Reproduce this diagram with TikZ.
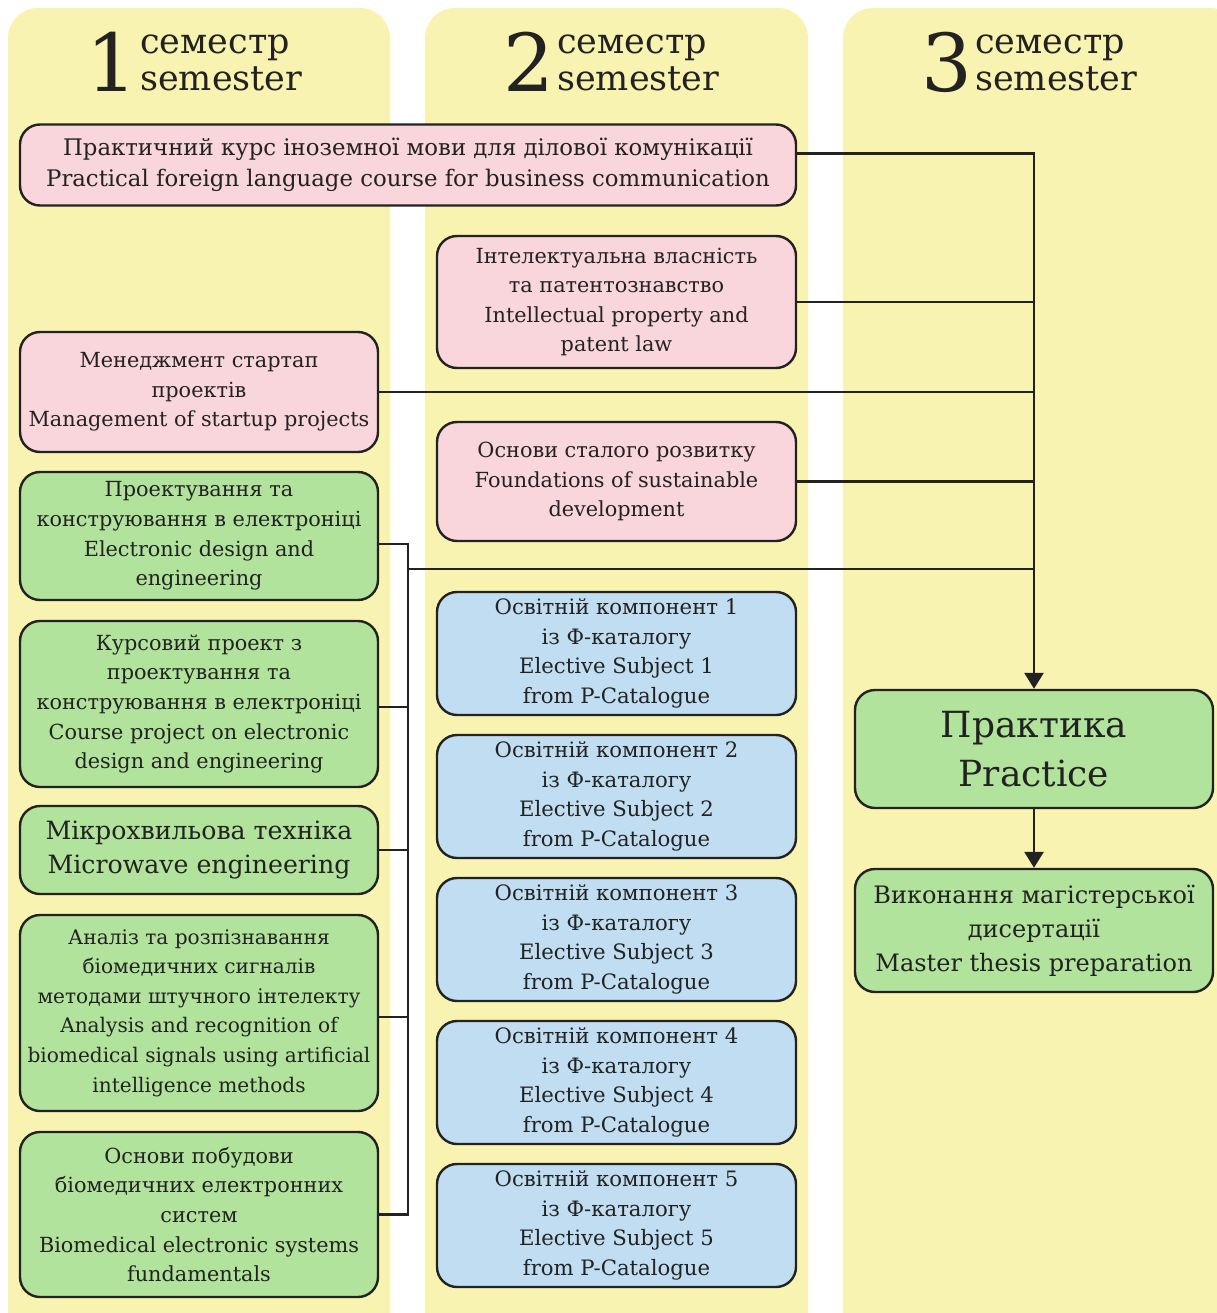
\documentclass[tikz,border=0pt]{standalone}
\usepackage{fontspec}
\setmainfont{DejaVu Serif}
\usetikzlibrary{arrows.meta}
\definecolor{colY}{HTML}{F8F3B1}
\definecolor{colPink}{HTML}{F9D5DC}
\definecolor{colGreen}{HTML}{B2E39C}
\definecolor{colBlue}{HTML}{C0DDF1}
\definecolor{colLine}{HTML}{222222}
\tikzset{
  basebox/.style={draw=colLine, line width=2.4pt, rounded corners=20pt, align=center, inner sep=0pt, text=colLine,
    font=\fontsize{20.8}{29.6}\selectfont},
  pinkbox/.style={basebox, fill=colPink},
  greenbox/.style={basebox, fill=colGreen},
  bluebox/.style={basebox, fill=colBlue, minimum width=359pt, minimum height=123pt, font=\fontsize{21.2}{29.6}\selectfont},
  conn/.style={draw=colLine, line width=2.8pt},
  arr/.style={conn, -{Triangle[width=19pt,length=16pt]}},
  numtxt/.style={anchor=base west, inner sep=0pt, text=colLine, font=\fontsize{80}{80}\selectfont},
  semtxt/.style={anchor=base west, inner sep=0pt, text=colLine, font=\fontsize{35}{35}\selectfont}
}
\begin{document}
\begin{tikzpicture}[x=1pt,y=-1pt]
\useasboundingbox (0,0) rectangle (1216,1313);
% columns
\fill[colY, rounded corners=30pt] (8,8) rectangle (390,1360);
\fill[colY, rounded corners=30pt] (425,8) rectangle (808,1360);
\fill[colY, rounded corners=30pt] (843,8) rectangle (1240,1360);
% headings
\node[numtxt] (n1) at (86,92) {1};
\node[semtxt] (s1a) at (140,54) {семестр};
\node[semtxt] (s1b) at (140,91) {semester};
\node[numtxt] (n2) at (503,92) {2};
\node[semtxt] (s2a) at (557,54) {семестр};
\node[semtxt] (s2b) at (557,91) {semester};
\node[numtxt] (n3) at (921,92) {3};
\node[semtxt] (s3a) at (975,54) {семестр};
\node[semtxt] (s3b) at (975,91) {semester};
% pink boxes
\node[pinkbox, minimum width=776pt, minimum height=81pt, font=\fontsize{22.8}{31}\selectfont] (p1) at (408,165)
  {Практичний курс іноземної мови для ділової комунікації\\Practical foreign language course for business communication};
\node[pinkbox, minimum width=359pt, minimum height=132pt] (p2) at (616.5,302)
  {Інтелектуальна власність\\та патентознавство\\Intellectual property and\\patent law};
\node[pinkbox, minimum width=358pt, minimum height=120pt] (p3) at (199,392)
  {Менеджмент стартап\\проектів\\Management of startup projects};
\node[pinkbox, minimum width=359pt, minimum height=119pt] (p4) at (616.5,481.5)
  {Основи сталого розвитку\\Foundations of sustainable\\development};
% green boxes
\node[greenbox, minimum width=358pt, minimum height=128pt] (g1) at (199,536)
  {Проектування та\\конструювання в електроніці\\Electronic design and\\engineering};
\node[greenbox, minimum width=358pt, minimum height=166pt] (g2) at (199,704)
  {Курсовий проект з\\проектування та\\конструювання в електроніці\\Course project on electronic\\design and engineering};
\node[greenbox, minimum width=358pt, minimum height=88pt, font=\fontsize{25.2}{34}\selectfont] (g3) at (199,850)
  {Мікрохвильова техніка\\Microwave engineering};
\node[greenbox, minimum width=358pt, minimum height=196pt, font=\fontsize{20.1}{29.6}\selectfont] (g4) at (199,1013)
  {Аналіз та розпізнавання\\біомедичних сигналів\\методами штучного інтелекту\\Analysis and recognition of\\biomedical signals using artificial\\intelligence methods};
\node[greenbox, minimum width=358pt, minimum height=165pt] (g5) at (199,1214.5)
  {Основи побудови\\біомедичних електронних\\систем\\Biomedical electronic systems\\fundamentals};
% blue boxes
\node[bluebox] (b1) at (616.5,653.5) {Освітній компонент 1\\із Ф-каталогу\\Elective Subject 1\\from P-Catalogue};
\node[bluebox] (b2) at (616.5,796.5) {Освітній компонент 2\\із Ф-каталогу\\Elective Subject 2\\from P-Catalogue};
\node[bluebox] (b3) at (616.5,939.5) {Освітній компонент 3\\із Ф-каталогу\\Elective Subject 3\\from P-Catalogue};
\node[bluebox] (b4) at (616.5,1082.5) {Освітній компонент 4\\із Ф-каталогу\\Elective Subject 4\\from P-Catalogue};
\node[bluebox] (b5) at (616.5,1225.5) {Освітній компонент 5\\із Ф-каталогу\\Elective Subject 5\\from P-Catalogue};
% semester 3
\node[greenbox, minimum width=358pt, minimum height=118pt, font=\fontsize{36}{49}\selectfont] (prac) at (1034,749)
  {Практика\\Practice};
\node[greenbox, minimum width=358pt, minimum height=123pt, font=\fontsize{24}{34}\selectfont] (thes) at (1034,930.5)
  {Виконання магістерської\\дисертації\\Master thesis preparation};
% connectors
\coordinate (bx) at (408,0);
\coordinate (jn) at (408,569);
\draw[conn] (p2.east) -- (p2.east -| prac.north);
\draw[conn] (p3.east) -- (p3.east -| prac.north);
\draw[conn] (p4.east) -- (p4.east -| prac.north);
\draw[conn] (jn) -- (jn -| prac.north);
\draw[conn] ([yshift=-8pt]g1.east) -- ([yshift=-8pt]g1.east -| bx) -- (g5.east -| bx) -- (g5.east);
\draw[conn] ([yshift=-3pt]g2.east) -- ([yshift=-3pt]g2.east -| bx);
\draw[conn] (g3.east) -- (g3.east -| bx);
\draw[conn] ([yshift=-4pt]g4.east) -- ([yshift=-4pt]g4.east -| bx);
\draw[arr] ([yshift=11.5pt]p1.east) -| (prac.north);
\draw[arr] (prac.south) -- (thes.north);
\end{tikzpicture}
\end{document}
